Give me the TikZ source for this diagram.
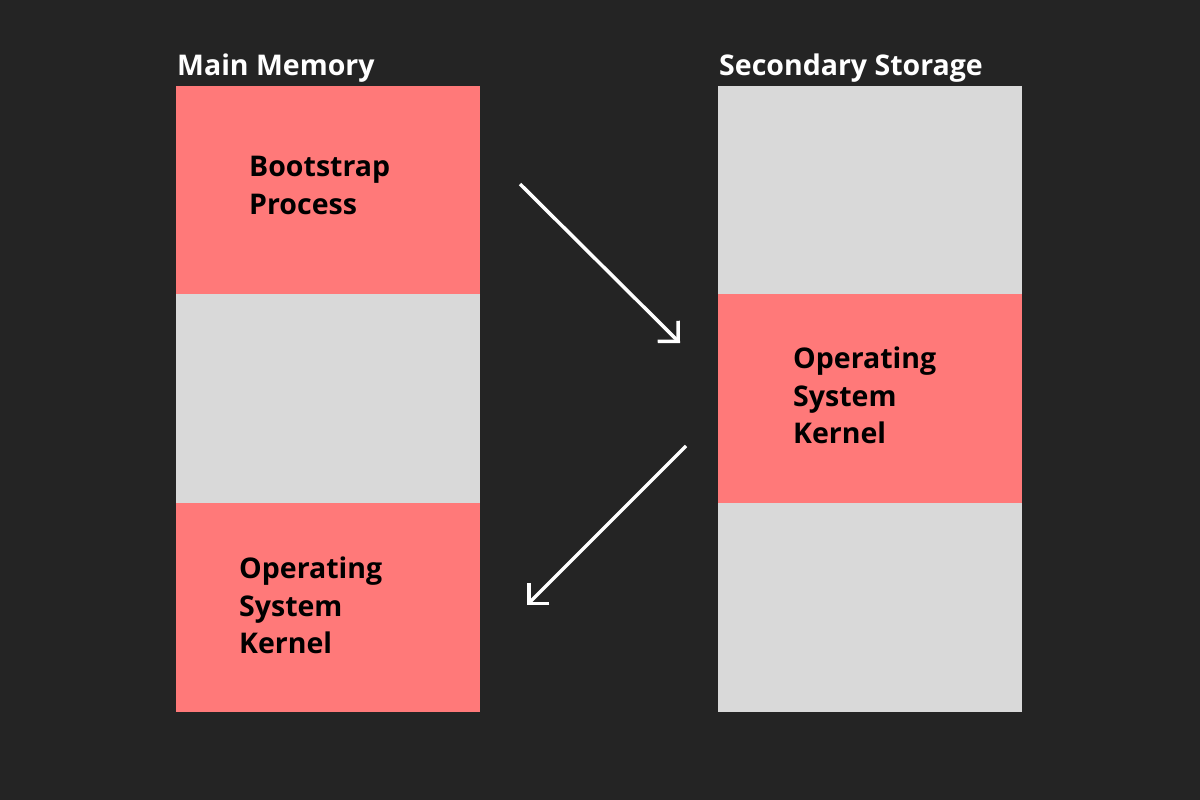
\documentclass[tikz,border=0pt]{standalone}
\usepackage{fontspec}
\setmainfont{Open Sans}
\usetikzlibrary{arrows.meta}
\definecolor{bgc}{HTML}{242424}
\definecolor{redc}{HTML}{FF7979}
\definecolor{grayc}{HTML}{D9D9D9}
\tikzset{
  blk/.style={draw=none,inner sep=0pt,outer sep=0pt,minimum width=304pt,minimum height=209pt,anchor=north west},
  title/.style={inner sep=0pt,anchor=base west,text=white,font=\fontsize{28.5}{34}\selectfont\bfseries},
  body/.style={inner sep=0pt,anchor=base west,text=black,align=left,font=\fontsize{28.5}{37.5}\selectfont\bfseries},
  arr/.style={draw=white,line width=3.5pt,line cap=butt,-{Straight Barb[length=14.5pt,width=29pt,line width=3.5pt,line join=miter]}}
}
\begin{document}
\begin{tikzpicture}[x=1pt,y=-1pt]
\fill[bgc] (0,0) rectangle (1200,800);
\useasboundingbox (0,0) rectangle (1200,800);
% left column
\node[blk,fill=redc] (l1) at (176,86) {};
\node[blk,fill=grayc] (l2) at (176,294) {};
\node[blk,fill=redc] (l3) at (176,503) {};
% right column
\node[blk,fill=grayc] (r1) at (718,86) {};
\node[blk,fill=redc] (r2) at (718,294) {};
\node[blk,fill=grayc] (r3) at (718,503) {};
% titles
\node[title] (tm) at (177,76) {Main Memory};
\node[title] (ts) at (719,76) {Secondary Storage};
% texts (anchored at the baseline of the last line)
\node[body] (bp) at (249,214) {Bootstrap\\Process};
\node[body] (ok1) at (239,653.5) {Operating\\System\\Kernel};
\node[body] (ok2) at (793,443.5) {Operating\\System\\Kernel};
% arrows
\coordinate (a1s) at (520,184);
\coordinate (a1e) at (680,343);
\coordinate (a2s) at (686,446);
\coordinate (a2e) at (527,605);
\draw[arr] (a1s) -- (a1e);
\draw[arr] (a2s) -- (a2e);
\end{tikzpicture}
\end{document}
